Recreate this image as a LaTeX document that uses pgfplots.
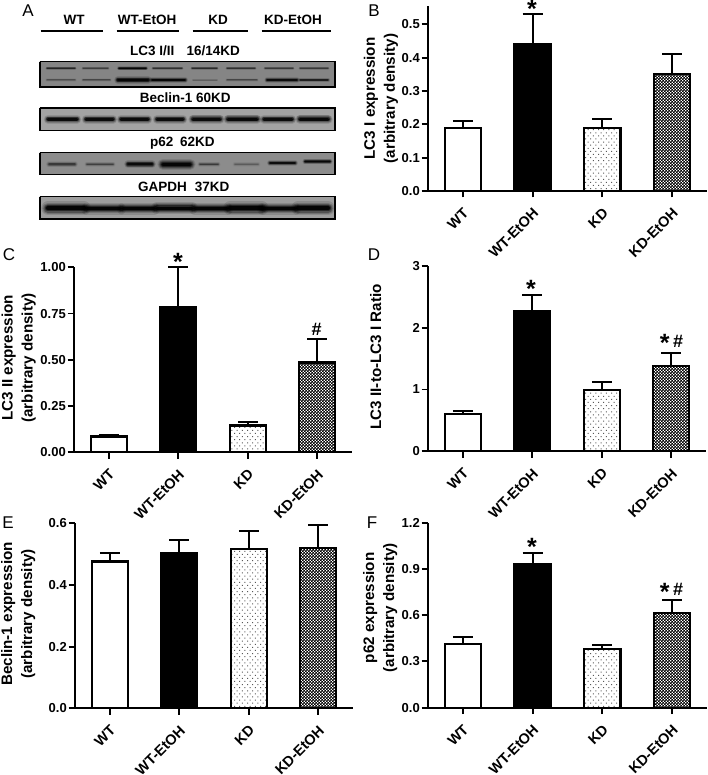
\documentclass[border=0pt]{standalone}
\usepackage{fontspec}
\setmainfont{Liberation Sans}
\usepackage{pgfplots}
\pgfplotsset{compat=1.18}
\usetikzlibrary{patterns}

\pgfdeclarepatternformonly{kddots}{\pgfqpoint{-0.5pt}{-0.5pt}}{\pgfqpoint{5.7pt}{6.7pt}}{\pgfqpoint{5.2pt}{6.2pt}}{
  \pgfpathrectangle{\pgfqpoint{0pt}{0pt}}{\pgfqpoint{1pt}{1pt}}
  \pgfpathrectangle{\pgfqpoint{2.6pt}{3.1pt}}{\pgfqpoint{1pt}{1pt}}
  \pgfusepath{fill}
}
\pgfdeclarepatternformonly{kdchecker}{\pgfqpoint{0pt}{0pt}}{\pgfqpoint{3.4pt}{3.4pt}}{\pgfqpoint{3.4pt}{3.4pt}}{
  \pgfpathrectangle{\pgfqpoint{0pt}{0pt}}{\pgfqpoint{2pt}{2pt}}
  \pgfpathrectangle{\pgfqpoint{1.7pt}{1.7pt}}{\pgfqpoint{1.7pt}{1.7pt}}
  \pgfusepath{fill}
}

\newcommand{\tickfont}{\bfseries\fontsize{13}{13}\selectfont}
\newcommand{\xlabfont}{\bfseries\fontsize{14.5}{17.5}\selectfont}
\newcommand{\labfont}{\bfseries\fontsize{15.2}{20}\selectfont}

\pgfplotsset{
  panel/.style={
    scale only axis, anchor=south west, clip=false,
    width=278pt, height=185pt, xmin=-0.5, xmax=3.5, ymin=0,
    axis lines=left, axis line style={-, line width=2pt},
    tick align=outside, major tick length=6.5pt,
    tick style={line width=1.9pt, black},
    xtick={0,1,2,3}, xticklabels={WT,WT-EtOH,KD,KD-EtOH},
    xticklabel style={rotate=45, anchor=north east, font=\xlabfont, inner sep=1pt, xshift=-6pt, yshift=-5.3pt},
    yticklabel style={font=\tickfont, inner sep=1.5pt},
    every axis y label/.append style={anchor=center, align=center, font=\labfont},
    every axis plot/.append style={ybar, bar shift=0pt, bar width=0.52, draw=black, line width=2.3pt,
      error bars/y dir=plus, error bars/y explicit,
      error bars/error bar style={line width=2pt, black},
      error bars/error mark options={rotate=90, mark size=10pt, line width=2pt, black}},
  },
  wt/.style={fill=white},
  etoh/.style={fill=black},
  kd/.style={pattern=kddots, pattern color=black!65},
  kde/.style={pattern=kdchecker, pattern color=black},
}

% one western blot band, faked with stacked soft lines: xleft xright y thickness strength
\newcommand{\band}[5]{
  \addplot[no marks, line cap=round, black, opacity=#5*0.12, line width=#4*1.7pt] coordinates {(#1,#3) (#2,#3)};
  \addplot[no marks, line cap=round, black, opacity=#5*0.18, line width=#4*1.4pt] coordinates {(#1,#3) (#2,#3)};
  \addplot[no marks, line cap=round, black, opacity=#5*0.28, line width=#4*1.1pt] coordinates {(#1,#3) (#2,#3)};
  \addplot[no marks, line cap=round, black, opacity=#5*0.5, line width=#4*0.8pt] coordinates {(#1,#3) (#2,#3)};
  \addplot[no marks, line cap=round, black, opacity=#5*0.85, line width=#4*0.5pt] coordinates {(#1,#3) (#2,#3)};
}
\newcommand{\blot}[3]{
  \addplot[no marks, draw=black, line width=1.6pt, fill=#3] coordinates {(39.7,#1) (335,#1) (335,#2) (39.7,#2) (39.7,#1)};
}
\newcommand{\sigstar}[2]{\node[inner sep=0pt, anchor=north, font=\bfseries\fontsize{25}{25}\selectfont] at (#1,#2) {*};}
\newcommand{\sighash}[2]{\node[inner sep=0pt, font=\bfseries\fontsize{18}{18}\selectfont] at (#1,#2) {\#};}

\begin{document}
\begin{tikzpicture}[x=1pt,y=1pt]
\path[use as bounding box] (0,0) rectangle (708,775);

% panel A, pixel coordinates of the picture
\begin{axis}[scale only axis, anchor=south west, at={(0pt,545pt)}, width=354pt, height=230pt,
  xmin=0, xmax=354, ymin=0, ymax=230, y dir=reverse, hide axis, clip=false]
\addplot[no marks, black, line width=2pt] coordinates {(40.7,30.7) (103,30.7)};
\addplot[no marks, black, line width=2pt] coordinates {(116.7,30.7) (179,30.7)};
\addplot[no marks, black, line width=2pt] coordinates {(192.7,30.7) (248,30.7)};
\addplot[no marks, black, line width=2pt] coordinates {(261.7,30.7) (331,30.7)};
\blot{61.7}{87.3}{black!48}
\blot{108.3}{130.7}{black!36}
\blot{152.7}{174.7}{black!45}
\blot{196.7}{219}{black!38}
\band{47}{75}{68.3}{2}{.55}
\band{83}{108}{68.3}{2}{.35}
\band{119}{146}{68.3}{2.5}{.95}
\band{153}{182}{68.3}{2}{.45}
\band{192}{217}{68.3}{2}{.5}
\band{227}{255}{68.3}{2}{.45}
\band{265}{293}{68.3}{2}{.4}
\band{300}{328}{68.3}{2}{.4}
\band{47}{75}{80}{2}{.25}
\band{83}{110}{80}{2}{.3}
\band{118}{148}{80}{4.5}{1}
\band{152}{185}{80}{3.5}{.95}
\band{193}{217}{80}{1.5}{.15}
\band{227}{257}{80}{2}{.3}
\band{267}{297}{80}{3}{.85}
\band{300}{328}{80}{2.5}{.6}
\band{48}{77}{119.3}{5}{.9}
\band{86}{113}{119.3}{5}{.9}
\band{121}{148}{119.3}{5}{.9}
\band{157}{183}{119.3}{5}{.9}
\band{193}{220}{119.3}{5.5}{.9}
\band{228}{257}{119.3}{5.5}{.95}
\band{264}{292}{119.3}{5}{.9}
\band{300}{328}{119.3}{5.5}{.95}
\band{49}{75}{164.3}{3.5}{.4}
\band{87}{113}{164.3}{3}{.35}
\band{128}{152}{164.3}{4.5}{.9}
\band{163}{190}{164.3}{6.5}{1}
\band{200}{218}{164.3}{3}{.4}
\band{235}{258}{164.3}{3}{.2}
\band{270}{295}{163}{3.5}{.85}
\band{305}{330}{161.5}{3}{.95}
\band{48}{84}{208.3}{8}{1}
\band{87}{120}{208.6}{7}{1}
\band{123}{154}{208.6}{7}{1}
\band{157}{192}{208.3}{7}{1}
\band{195}{227}{208.6}{7}{1}
\band{230}{262}{208.3}{8}{1}
\band{263}{295}{208.6}{7}{1}
\band{298}{328}{208.3}{8}{1}
\end{axis}

\begin{scope}[every node/.style={inner sep=0pt, font=\bfseries\fontsize{13.5}{13.5}\selectfont}]
\node at (74,755) {WT};
\node at (147,755) {WT-EtOH};
\node at (218,755) {KD};
\node at (293,755) {KD-EtOH};
\node at (185,724.3) {LC3 I/II\hspace{0.9em}16/14KD};
\node at (185.3,677.3) {Beclin-1 60KD};
\node at (182.3,632.3) {p62\hspace{0.5em}62KD};
\node at (183.7,588.3) {GAPDH\hspace{0.6em}37KD};
\end{scope}

% panel B
\begin{axis}[panel, at={(428pt,584pt)}, width=279pt, ymax=0.555,
  ytick={0,0.1,0.2,0.3,0.4,0.5}, yticklabels={0.0,0.1,0.2,0.3,0.4,0.5},
  ylabel={LC3 I expression\\(arbitrary density)}, ylabel style={at={(axis description cs:-0.1685,0.5)}}]
\addplot[wt] coordinates {(0,0.188) +- (0,0.022)};
\addplot[etoh] coordinates {(1,0.440) +- (0,0.092)};
\addplot[kd] coordinates {(2,0.188) +- (0,0.029)};
\addplot[kde] coordinates {(3,0.352) +- (0,0.058)};
\end{axis}

% panel C
\begin{axis}[panel, at={(74pt,322.7pt)}, ymax=1,
  ytick={0,0.25,0.5,0.75,1}, yticklabels={0.00,0.25,0.50,0.75,1.00},
  ylabel={LC3 II expression\\(arbitrary density)}, ylabel style={at={(axis description cs:-0.199,0.51)}}]
\addplot[wt] coordinates {(0,0.085) +- (0,0.008)};
\addplot[etoh] coordinates {(1,0.785) +- (0,0.215)};
\addplot[kd] coordinates {(2,0.145) +- (0,0.018)};
\addplot[kde] coordinates {(3,0.485) +- (0,0.125)};
\end{axis}

% panel D
\begin{axis}[panel, at={(428pt,323.7pt)}, height=185.3pt, ymax=3,
  ytick={0,1,2,3}, yticklabels={0,1,2,3},
  ylabel={LC3 II-to-LC3 I Ratio}, ylabel style={at={(axis description cs:-0.188,0.51)}}]
\addplot[wt] coordinates {(0,0.604) +- (0,0.054)};
\addplot[etoh] coordinates {(1,2.277) +- (0,0.259)};
\addplot[kd] coordinates {(2,0.993) +- (0,0.124)};
\addplot[kde] coordinates {(3,1.380) +- (0,0.207)};
\end{axis}

% panel E
\begin{axis}[panel, at={(75pt,66.7pt)}, ymax=0.6,
  ytick={0,0.2,0.4,0.6}, yticklabels={0.0,0.2,0.4,0.6},
  ylabel={Beclin-1 expression\\(arbitrary density)}, ylabel style={at={(axis description cs:-0.204,0.51)}}]
\addplot[wt] coordinates {(0,0.476) +- (0,0.029)};
\addplot[etoh] coordinates {(1,0.503) +- (0,0.042)};
\addplot[kd] coordinates {(2,0.516) +- (0,0.058)};
\addplot[kde] coordinates {(3,0.520) +- (0,0.076)};
\end{axis}

% panel F
\begin{axis}[panel, at={(428pt,67.3pt)}, width=279pt, ymax=1.2,
  ytick={0,0.3,0.6,0.9,1.2}, yticklabels={0.0,0.3,0.6,0.9,1.2},
  ylabel={p62 expression\\(arbitrary density)}, ylabel style={at={(axis description cs:-0.171,0.54)}}]
\addplot[wt] coordinates {(0,0.413) +- (0,0.045)};
\addplot[etoh] coordinates {(1,0.928) +- (0,0.077)};
\addplot[kd] coordinates {(2,0.383) +- (0,0.021)};
\addplot[kde] coordinates {(3,0.612) +- (0,0.084)};
\end{axis}

% significance marks
\sigstar{532}{775}
\sigstar{178}{522}
\sighash{316.7}{446}
\sigstar{531}{495}
\sigstar{664.7}{441}
\sighash{678}{433.5}
\sigstar{532}{237}
\sigstar{664.7}{192}
\sighash{678}{185.5}

% panel letters
\begin{scope}[every node/.style={inner sep=0pt, font=\fontsize{17}{17}\selectfont}]
\node at (28,764) {A};
\node at (374,764) {B};
\node at (9,520) {C};
\node at (374,520) {D};
\node at (8,252) {E};
\node at (372,252) {F};
\end{scope}
\end{tikzpicture}
\end{document}
